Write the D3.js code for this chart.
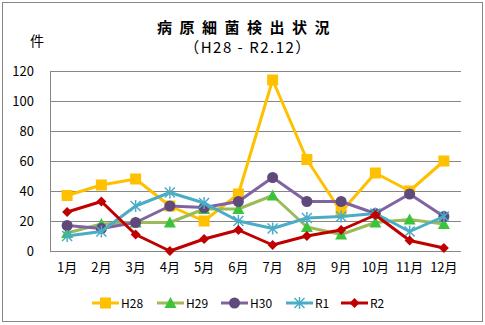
<!DOCTYPE html>
<html><head><meta charset="utf-8">
<script src="https://cdn.jsdelivr.net/npm/d3@7"></script>
<style>body{margin:0;background:#fff}svg{display:block}</style>
</head><body>
<script>
const months = ["1月","2月","3月","4月","5月","6月","7月","8月","9月","10月","11月","12月"];
const seriesNames = ["H28","H29","H30","R1","R2"];
const H28 = [37,44,48,30,20,38,114,61,26,52,40,60];
const H29 = [12,18,19,19,28,28,37,16,11,19,21,18];
const H30 = [17,15,19,30,29,33,49,33,33,25,38,23];
const R1  = [10,13,30,39,32,20,15,22,23,25,13,23];
const R2  = [26,33,11,0,8,14,4,10,14,24,7,2];
const yTicks = [0,20,40,60,80,100,120];

const W=485,H=325;
const svg=d3.select("body").append("svg").attr("width",W).attr("height",H);
svg.append("rect").attr("x",2.5).attr("y",2.5).attr("width",480).attr("height",319)
  .attr("fill","#fff").attr("stroke","#868686").attr("stroke-width",1);

const x=d3.scaleBand().domain(months).range([50,461]);
const y=d3.scaleLinear().domain([0,120]).range([251,71]);
const font='"Noto Sans CJK JP","Noto Sans",sans-serif';

// grid
svg.append("g").selectAll("line").data(yTicks).join("line")
  .attr("x1",50).attr("x2",461).attr("y1",d=>y(d)+0.5).attr("y2",d=>y(d)+0.5)
  .attr("stroke","#868686").attr("stroke-width",1);
svg.append("line").attr("x1",50.5).attr("x2",50.5).attr("y1",71).attr("y2",251).attr("stroke","#868686");

const yAxis=d3.axisLeft(y).tickValues(yTicks).tickSize(0).tickPadding(16);
const gy=svg.append("g").attr("transform","translate(50,0)").call(yAxis);
gy.select(".domain").remove();
gy.selectAll("text").attr("font-family",font).attr("font-size",13).attr("fill","#000");

const xAxis=d3.axisBottom(x).tickSize(0).tickPadding(12);
const gx=svg.append("g").attr("transform","translate(0,251)").call(xAxis);
gx.select(".domain").remove();
gx.selectAll("text").attr("font-family",font).attr("font-size",13).attr("fill","#000");

// titles
svg.append("text").attr("x",247).attr("y",33).attr("text-anchor","middle")
  .attr("font-family",font).attr("font-size",15).attr("font-weight","bold").attr("letter-spacing","7.5px")
  .text("病原細菌検出状況");
svg.append("text").attr("x",248).attr("y",53).attr("text-anchor","middle")
  .attr("font-family",font).attr("font-size",15).attr("letter-spacing","1.5px")
  .text("（H28 - R2.12）");
svg.append("text").attr("x",37).attr("y",46).attr("text-anchor","middle")
  .attr("font-family",font).attr("font-size",14).text("件");

const series=[
 {name:"H28",data:H28,line:"#FFC000",fill:"#FFC000",shape:"square"},
 {name:"H29",data:H29,line:"#9BBB59",fill:"#3CC33C",shape:"triangle"},
 {name:"H30",data:H30,line:"#8064A2",fill:"#604A7B",shape:"circle"},
 {name:"R1",data:R1,line:"#4BACC6",fill:"#4BACC6",shape:"star"},
 {name:"R2",data:R2,line:"#C00000",fill:"#C00000",shape:"diamond"}
];

function marker(g,s,cx,cy){
  if(s.shape==="square"){
    g.append("rect").attr("x",cx-5.5).attr("y",cy-5.5).attr("width",11).attr("height",11).attr("fill",s.fill);
  } else if(s.shape==="triangle"){
    g.append("path").attr("d",`M${cx},${cy-6}L${cx+6},${cy+5}L${cx-6},${cy+5}Z`).attr("fill",s.fill);
  } else if(s.shape==="circle"){
    g.append("circle").attr("cx",cx).attr("cy",cy).attr("r",5.5).attr("fill",s.fill);
  } else if(s.shape==="diamond"){
    g.append("path").attr("d",`M${cx},${cy-5}L${cx+5},${cy}L${cx},${cy+5}L${cx-5},${cy}Z`).attr("fill",s.fill);
  } else if(s.shape==="star"){
    const r=5;
    g.append("path").attr("d",`M${cx-r},${cy-r}L${cx+r},${cy+r}M${cx-r},${cy+r}L${cx+r},${cy-r}M${cx},${cy-r-1}L${cx},${cy+r+1}`)
      .attr("stroke",s.fill).attr("stroke-width",1.5).attr("fill","none");
  }
}

const line=d3.line().x((d,i)=>x(months[i])+x.bandwidth()/2).y(d=>y(d));
series.forEach(s=>{
  const g=svg.append("g");
  g.append("path").attr("d",line(s.data)).attr("fill","none").attr("stroke",s.line)
    .attr("stroke-width",3).attr("stroke-linejoin","round");
  s.data.forEach((d,i)=>marker(g,s,x(months[i])+x.bandwidth()/2,y(d)));
});

// legend
const legX=[92,157,221,286,341];
const legend=svg.append("g");
series.forEach((s,i)=>{
  const lx=legX[i], ly=303;
  legend.append("line").attr("x1",lx).attr("x2",lx+27).attr("y1",ly).attr("y2",ly)
    .attr("stroke",s.line).attr("stroke-width",3);
  marker(legend,s,lx+13.5,ly);
  legend.append("text").attr("x",lx+29).attr("y",ly+4.5).attr("font-family",font)
    .attr("font-size",12).text(s.name);
});
</script>
</body></html>
